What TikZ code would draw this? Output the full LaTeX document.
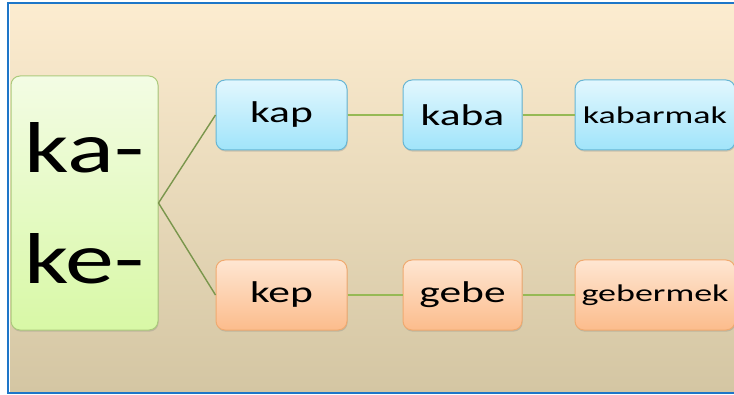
\documentclass[tikz,border=0pt]{standalone}
\usepackage{fontspec}
\setmainfont{Carlito}
\usetikzlibrary{shadows}
\definecolor{bgtop}{RGB}{252,236,208}
\definecolor{bgbot}{RGB}{212,198,163}
\definecolor{greentop}{RGB}{243,252,228}
\definecolor{greenbot}{RGB}{216,248,166}
\definecolor{greenborder}{RGB}{172,202,124}
\definecolor{bluetop}{RGB}{226,247,254}
\definecolor{bluebot}{RGB}{160,228,250}
\definecolor{blueborder}{RGB}{104,182,212}
\definecolor{orangetop}{RGB}{254,230,210}
\definecolor{orangebot}{RGB}{252,188,140}
\definecolor{orangeborder}{RGB}{240,170,112}
\definecolor{framecol}{RGB}{30,118,200}
\definecolor{linkdark}{RGB}{122,150,76}
\definecolor{linklight}{RGB}{150,185,85}
\tikzset{
  box/.style={rounded corners=9pt, inner sep=0pt, line width=1pt,
    drop shadow={shadow xshift=0.6pt, shadow yshift=-1.6pt, opacity=0.3}},
  rootbox/.style={box, draw=greenborder, top color=greentop, bottom color=greenbot,
    minimum width=147pt, minimum height=254pt, align=center,
    font=\fontsize{72}{111}\selectfont},
  bluebox/.style={box, draw=blueborder, top color=bluetop, bottom color=bluebot, minimum height=70pt},
  orangebox/.style={box, draw=orangeborder, top color=orangetop, bottom color=orangebot, minimum height=70pt},
  midfont/.style={font=\fontsize{30}{34}\selectfont},
  smallfont/.style={font=\fontsize{24}{28}\selectfont},
  link/.style={line width=1.4pt, draw=linkdark},
  hlink/.style={line width=1.4pt, draw=linklight}
}
\newcommand{\wide}[2]{\scalebox{#1}[1]{#2}}
\begin{document}
\begin{tikzpicture}[x=1pt,y=1pt]
\useasboundingbox (0,0) rectangle (734,394);
\fill[white] (0,0) rectangle (734,394);
\shade[top color=bgtop, bottom color=bgbot] (10,3) rectangle (734,389);
\fill[framecol] (7,0) rectangle (734,2);
\fill[framecol] (7,390) rectangle (734,392);
\fill[framecol] (7,0) rectangle (9,392);

\node[rootbox] (root) at (84.5,191) {\wide{1.36}{ka-}\\\wide{1.36}{ke-}};

\node[bluebox, minimum width=131pt, midfont] (kap) at (281.5,279) {\wide{1.45}{kap}};
\node[bluebox, minimum width=119pt, midfont] (kaba) at (462.5,279) {\wide{1.45}{kaba}};
\node[bluebox, minimum width=160pt, smallfont] (kabarmak) at (655,279) {\wide{1.5}{kabarmak}};

\node[orangebox, minimum width=131pt, midfont] (kep) at (281.5,99) {\wide{1.45}{kep}};
\node[orangebox, minimum width=119pt, midfont] (gebe) at (462.5,99) {\wide{1.45}{gebe}};
\node[orangebox, minimum width=160pt, smallfont] (gebermek) at (655,99) {\wide{1.5}{gebermek}};

\draw[link] (root.east) -- (kap.west);
\draw[link] (root.east) -- (kep.west);
\draw[hlink] (kap.east) -- (kaba.west);
\draw[hlink] (kaba.east) -- (kabarmak.west);
\draw[hlink] (kep.east) -- (gebe.west);
\draw[hlink] (gebe.east) -- (gebermek.west);
\end{tikzpicture}
\end{document}
